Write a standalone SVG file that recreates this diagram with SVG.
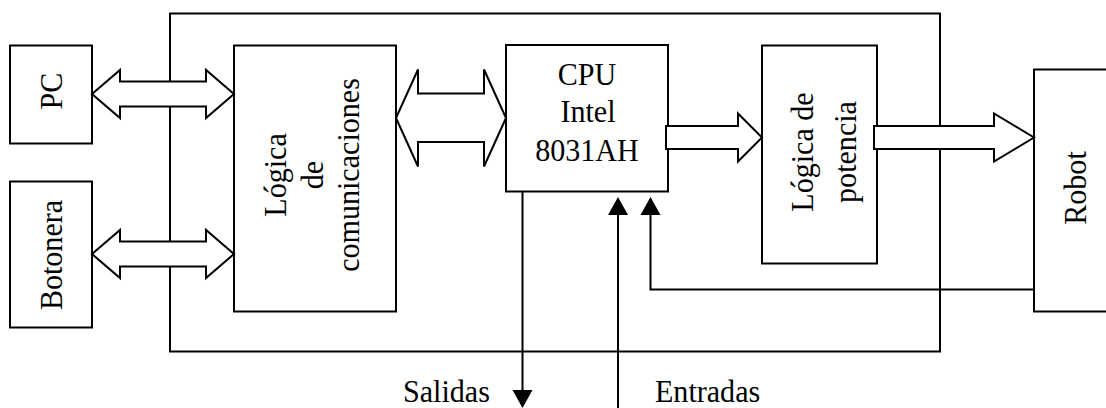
<svg xmlns="http://www.w3.org/2000/svg" width="1106" height="408" viewBox="0 0 1106 408">
  <style>
    .box { fill: #fff; stroke: #000; stroke-width: 2; }
    .frame { fill: none; stroke: #000; stroke-width: 2; }
    .bus { fill: #fff; stroke: #000; stroke-width: 2; stroke-linejoin: miter; }
    .wire { fill: none; stroke: #000; stroke-width: 2; }
    .head { fill: #000; stroke: none; }
    text { font-family: "Liberation Serif", "Times New Roman", serif; font-size: 32px; fill: #000; }
    .c { text-anchor: middle; }
  </style>
  <rect width="1106" height="408" fill="#fff"/>

  <g id="controller">
    <rect class="frame" x="170" y="13.5" width="770" height="338"/>
  </g>

  <g id="pc">
    <rect class="box" x="10" y="45.5" width="82" height="98"/>
    <text class="c" transform="translate(62,91) rotate(-90) scale(0.94,1)">PC</text>
  </g>

  <g id="botonera">
    <rect class="box" x="10" y="181.5" width="82" height="146"/>
    <text class="c" transform="translate(62,255) rotate(-90) scale(0.94,1)">Botonera</text>
  </g>

  <g id="logica-comunicaciones">
    <rect class="box" x="234" y="45.5" width="162" height="266"/>
    <text class="c" transform="translate(286,175) rotate(-90) scale(0.94,1)">Lógica</text>
    <text class="c" transform="translate(323,175) rotate(-90) scale(0.94,1)">de</text>
    <text class="c" transform="translate(359,175) rotate(-90) scale(0.94,1)">comunicaciones</text>
  </g>

  <g id="cpu">
    <rect class="box" x="506" y="45" width="162" height="146.5"/>
    <text class="c" transform="translate(587,85) scale(0.94,1)">CPU</text>
    <text class="c" transform="translate(588,122) scale(0.94,1)">Intel</text>
    <text class="c" transform="translate(587,161) scale(0.94,1)">8031AH</text>
  </g>

  <g id="logica-potencia">
    <rect class="box" x="762" y="45.5" width="115" height="218"/>
    <text class="c" transform="translate(813,152) rotate(-90) scale(0.94,1)">Lógica de</text>
    <text class="c" transform="translate(856,152) rotate(-90) scale(0.94,1)">potencia</text>
  </g>

  <g id="robot">
    <rect class="box" x="1034" y="69.5" width="100" height="242"/>
    <text class="c" transform="translate(1086,188) rotate(-90) scale(0.94,1)">Robot</text>
  </g>

  <g id="connectors">
    <!-- PC <-> Logica de comunicaciones -->
    <polygon class="bus" points="92,94 120,70 120,81.5 206,81.5 206,70 234,94 206,118 206,106.5 120,106.5 120,118"/>
    <!-- Botonera <-> Logica de comunicaciones -->
    <polygon class="bus" points="92,254 120,230 120,241.5 206,241.5 206,230 234,254 206,278 206,266.5 120,266.5 120,278"/>
    <!-- Logica de comunicaciones <-> CPU -->
    <polygon class="bus" points="396,118 418,69.5 418,93.5 484,93.5 484,69.5 506,118 484,166.5 484,142 418,142 418,166.5"/>
    <!-- CPU -> Logica de potencia -->
    <polygon class="bus" points="666,126 738,126 738,113.5 762,137.5 738,161.5 738,149 666,149"/>
    <!-- Logica de potencia -> Robot -->
    <polygon class="bus" points="874,126 994,126 994,113.5 1034,137.5 994,161.5 994,149 874,149"/>

    <!-- Salidas -->
    <path class="wire" d="M522.5,191.5 V392"/>
    <polygon class="head" points="512.5,390 532.5,390 522.5,408"/>
    <!-- Entradas -->
    <path class="wire" d="M618,408 V213"/>
    <polygon class="head" points="608,215 628,215 618,197"/>
    <!-- Robot feedback -->
    <path class="wire" d="M1034,289.5 H650.5 V213"/>
    <polygon class="head" points="640.5,215 660.5,215 650.5,197"/>
  </g>

  <g id="labels">
    <text transform="translate(403,401.5) scale(0.94,1)">Salidas</text>
    <text transform="translate(655,401.5) scale(0.94,1)">Entradas</text>
  </g>
</svg>
